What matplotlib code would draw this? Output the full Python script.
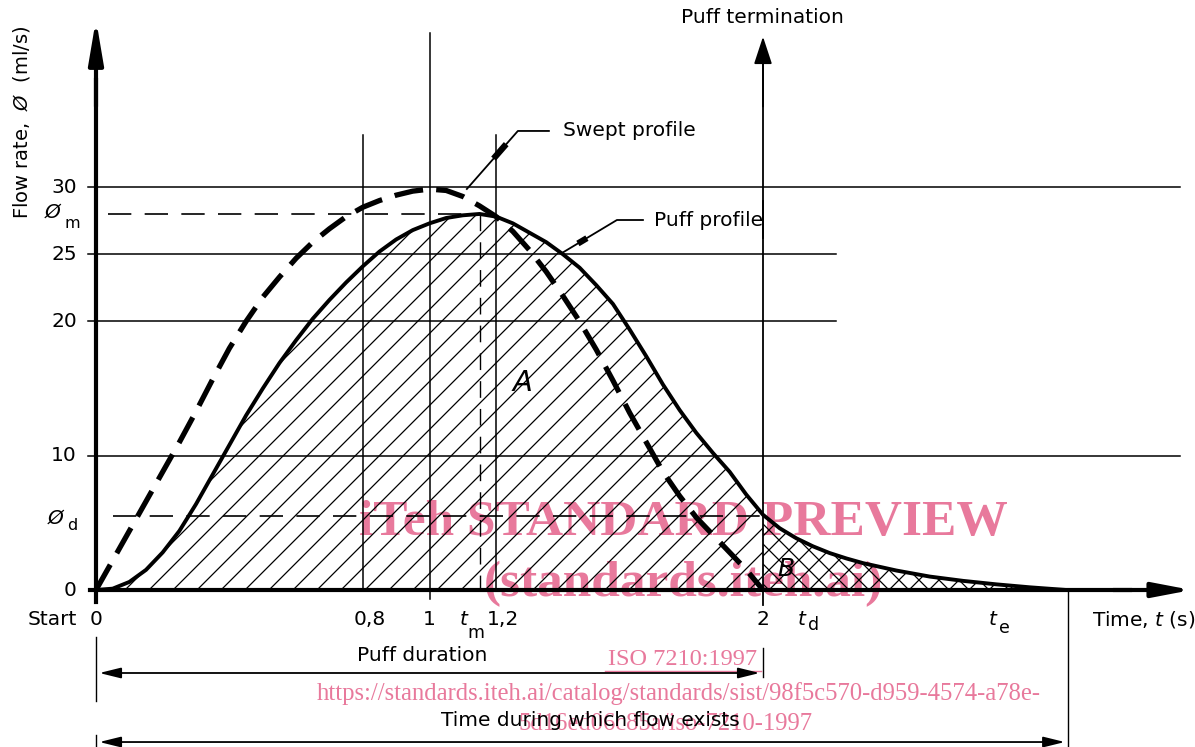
import numpy as np
import matplotlib
matplotlib.use('Agg')
import matplotlib.pyplot as plt
from matplotlib.patches import Polygon

plt.rcParams['font.family'] = ['DejaVu Sans']
plt.rcParams['mathtext.fontset'] = 'dejavusans'

# ---- data ----
puff_t = [0.00, 0.05, 0.10, 0.15, 0.20, 0.25, 0.30, 0.35, 0.40, 0.45, 0.50, 0.55,
          0.60, 0.65, 0.70, 0.75, 0.80, 0.85, 0.90, 0.95, 1.00, 1.05, 1.10, 1.15,
          1.20, 1.25, 1.30, 1.35, 1.40, 1.45, 1.50, 1.55, 1.60, 1.65, 1.70, 1.75,
          1.80, 1.85, 1.90, 1.95, 2.00, 2.05, 2.10, 2.15, 2.20, 2.25, 2.30, 2.40,
          2.50, 2.60, 2.70, 2.80, 2.91]
puff_flow = [0.0, 0.1, 0.6, 1.5, 2.8, 4.4, 6.4, 8.6, 10.8, 13.0, 15.0, 16.9,
             18.6, 20.2, 21.6, 22.9, 24.1, 25.2, 26.1, 26.8, 27.3, 27.7, 27.9, 28.0,
             27.8, 27.3, 26.6, 25.9, 25.0, 24.0, 22.7, 21.3, 19.4, 17.4, 15.3, 13.4,
             11.7, 10.2, 8.8, 7.1, 5.6, 4.6, 3.85, 3.25, 2.75, 2.35, 2.0, 1.45,
             1.0, 0.68, 0.42, 0.2, 0.0]

swept_t = [0.00, 0.05, 0.10, 0.15, 0.20, 0.25, 0.30, 0.35, 0.40, 0.45, 0.50, 0.55,
           0.60, 0.65, 0.70, 0.75, 0.80, 0.85, 0.90, 0.95, 1.00, 1.05, 1.10, 1.15,
           1.20, 1.25, 1.30, 1.35, 1.40, 1.45, 1.50, 1.55, 1.60, 1.65, 1.70, 1.75,
           1.80, 1.85, 1.90, 1.95, 1.98, 2.00]
swept_flow = [0.0, 2.2, 4.4, 6.6, 8.8, 11.0, 13.3, 15.7, 18.0, 20.0, 21.8, 23.3,
              24.7, 25.9, 26.9, 27.8, 28.5, 29.0, 29.4, 29.7, 29.85, 29.75, 29.3, 28.6,
              27.8, 26.7, 25.3, 23.7, 21.9, 20.0, 17.9, 15.6, 13.2, 11.0, 8.8, 7.0,
              5.4, 4.1, 2.8, 1.5, 0.6, 0.0]

y_ticks = [0, 10, 20, 25, 30]
x_ticks = [0, 0.8, 1, 1.2, 2]
x_tick_labels = ['0', '0,8', '1', '1,2', '2']
phi_m = 28.0
phi_d = 5.5
t_m = 1.15
t_d = 2.0
t_e = 2.915

# pixel scale of the drawing (px per unit)
SX, SY = 333.5, 13.43

fig = plt.figure(figsize=(11.95, 7.47), dpi=100)
ax = fig.add_axes([0, 0, 1, 1])
ax.set_xlim(-96 / SX, (1195 - 96) / SX)
ax.set_ylim(-157 / SY, 590 / SY)
ax.set_autoscale_on(False)
ax.axis('off')

K = 'black'
TXT = 14.5

# ---- grid lines ----
for yv in y_ticks[1:]:
    right = 2.22 if yv in (20, 25) else 3.25
    ax.plot([-0.025, right], [yv, yv], color=K, lw=1.1)
ax.plot([0.8, 0.8], [0, 33.9], color=K, lw=1.1)
ax.plot([1.0, 1.0], [-0.7, 41.5], color=K, lw=1.1)
ax.plot([1.2, 1.2], [0, 33.9], color=K, lw=1.1)
ax.plot([t_d, t_d], [-1.1, 29.0], color=K, lw=1.3)
ax.plot([t_d, t_d], [26.2, 40.0], color=K, lw=1.3)
ax.plot([t_e, t_e], [0, -11.7], color=K, lw=1.0)
ax.plot([0, 0], [-3.5, -8.3], color=K, lw=1.0)
ax.plot([0, 0], [-10.8, -11.7], color=K, lw=1.0)
ax.plot([t_d, t_d], [-4.3, -6.5], color=K, lw=1.0)

# puff termination arrow
ax.annotate('', xy=(t_d, 41.2), xytext=(t_d, 36),
            arrowprops=dict(arrowstyle='-|>,head_length=0.85,head_width=0.28',
                            mutation_scale=20, lw=1.3, color=K,
                            shrinkA=0, shrinkB=0))

# dashed reference lines
ax.plot([0.036, t_m], [phi_m, phi_m], color=K, lw=1.2, dashes=(14, 8))
ax.plot([t_m, t_m], [phi_m, 0], color=K, lw=1.0, dashes=(12, 8))
ax.plot([0.05, t_d], [phi_d, phi_d], color=K, lw=1.2, dashes=(14, 8))

# ---- hatched areas ----
pt = np.array(puff_t)
pf = np.array(puff_flow)
a_mask = pt <= t_d
b_mask = pt >= t_d
poly_a = Polygon(np.column_stack([np.r_[pt[a_mask], t_d], np.r_[pf[a_mask], 0]]),
                 closed=True, facecolor='none', edgecolor='none')
poly_b = Polygon(np.column_stack([np.r_[pt[b_mask], t_d], np.r_[pf[b_mask], 0]]),
                 closed=True, facecolor='none', edgecolor='none')
ax.add_patch(poly_a)
ax.add_patch(poly_b)

slope = SX / SY
xs = np.array([-0.5, 3.5])


def hatch(patch, step, signs):
    for s in signs:
        for c in np.arange(-2.0, 5.0, step):
            ln, = ax.plot(xs, s * slope * (xs - c), color=K, lw=0.9)
            ln.set_clip_path(patch)


hatch(poly_a, 24 / SX, [1])
hatch(poly_b, 20 / SX, [1, -1])

# ---- profiles ----
ax.plot(puff_t, puff_flow, color=K, lw=2.8, solid_capstyle='round',
        solid_joinstyle='round', zorder=5)
ax.plot(swept_t, swept_flow, color=K, lw=3.8, dashes=(5.5, 2.5), zorder=6)

# ---- axes ----
ax.plot([-0.018, 3.1], [0, 0], color=K, lw=3.0, zorder=7)
ax.plot([0, 0], [-0.9, 38], color=K, lw=3.0, zorder=7)
ax.annotate('', xy=(0, 42.5), xytext=(0, 36),
            arrowprops=dict(arrowstyle='-|>,head_length=1.3,head_width=0.22',
                            mutation_scale=20, lw=3.0, color=K,
                            shrinkA=0, shrinkB=0), zorder=7)
ax.annotate('', xy=(3.285, 0), xytext=(3.05, 0), annotation_clip=False,
            arrowprops=dict(arrowstyle='-|>,head_length=1.15,head_width=0.22',
                            mutation_scale=20, lw=3.0, color=K,
                            shrinkA=0, shrinkB=0), zorder=7)

# dimension arrows
dim = dict(arrowstyle='<|-|>,head_length=0.65,head_width=0.16',
           mutation_scale=20, lw=1.3, color=K, shrinkA=0, shrinkB=0)
ax.annotate('', xy=(0.01, -6.18), xytext=(t_d - 0.01, -6.18), arrowprops=dim)
ax.annotate('', xy=(0.01, -11.32), xytext=(t_e - 0.01, -11.32), arrowprops=dim)

# ---- tick labels ----
ylab_x = -0.057
for yv in y_ticks:
    ax.text(ylab_x, yv, str(yv), ha='right', va='center', fontsize=TXT)
ax.text(-0.13, phi_m + 0.1, 'Ø', ha='center', va='center', fontsize=TXT,
        style='italic')
ax.text(-0.072, phi_m - 0.7, 'm', ha='center', va='center', fontsize=TXT - 3)
ax.text(-0.12, phi_d - 0.15, 'Ø', ha='center', va='center', fontsize=TXT,
        style='italic')
ax.text(-0.072, phi_d - 0.7, 'd', ha='center', va='center', fontsize=TXT - 3)

xl_y = -2.23
for xv, lab in zip(x_ticks, x_tick_labels):
    ax.text(xv + (0.02 if lab == '0,8' else 0.0) + (0.02 if lab == '1,2' else 0.0),
            xl_y, lab, ha='center', va='center', fontsize=TXT)
ax.text(-0.057, xl_y, 'Start', ha='right', va='center', fontsize=TXT)
for tx, sub, dx, dy in [(1.102, 'm', 0.038, -0.95), (2.117, 'd', 0.034, -0.35),
                        (2.69, 'e', 0.033, -0.6)]:
    ax.text(tx, xl_y, 't', ha='center', va='center', fontsize=TXT, style='italic')
    ax.text(tx + dx, xl_y + dy, sub, ha='center', va='center', fontsize=TXT - 2)
ax.text(2.987, xl_y, 'Time, $t$ (s)', ha='left', va='center', fontsize=TXT)

ax.text(-0.222, 34.8, r'Flow rate,  $\mathit{Ø}$  (ml/s)', rotation=90,
        ha='center', va='center', fontsize=TXT - 0.5)

# ---- annotations ----
ax.text(1.754, 42.6, 'Puff termination', ha='left', va='center', fontsize=TXT)
ax.plot([1.358, 1.265, 1.112], [34.18, 34.18, 29.86], color=K, lw=1.3)
ax.plot([1.230, 1.192], [33.20, 32.12], color=K, lw=4.5, solid_capstyle='butt')
ax.text(1.40, 34.18, 'Swept profile', ha='left', va='center', fontsize=TXT)
ax.plot([1.640, 1.562, 1.397], [27.55, 27.55, 25.09], color=K, lw=1.3)
ax.plot([1.472, 1.445], [26.2, 25.8], color=K, lw=4.5, solid_capstyle='butt')
ax.text(1.672, 27.55, 'Puff profile', ha='left', va='center', fontsize=TXT)

ax.text(1.28, 15.4, 'A', ha='center', va='center', fontsize=21, style='italic')
ax.text(2.07, 1.6, 'B', ha='center', va='center', fontsize=18, style='italic')

ax.text(0.977, -4.84, 'Puff duration', ha='center', va='center', fontsize=TXT)
ax.text(1.481, -9.68, 'Time during which flow exists', ha='center', va='center',
        fontsize=TXT)

# ---- watermark (drawn under the black drawing) ----
wm = '#e8799c'
ax.text(1.760, 5.0, 'iTeh STANDARD PREVIEW', ha='center', va='center',
        fontsize=37, fontweight='bold', family='Liberation Serif', color=wm,
        zorder=0.5)
ax.text(1.760, 0.45, '(standards.iteh.ai)', ha='center', va='center',
        fontsize=37, fontweight='bold', family='Liberation Serif', color=wm,
        zorder=0.5)
ax.text(1.760, -5.21, 'ISO 7210:1997', ha='center', va='center', fontsize=17.5,
        family='Liberation Serif', color=wm, zorder=0.5)
ax.plot([1.525, 1.995], [-6.02, -6.02], color=wm, lw=1.0, zorder=0.5)
ax.text(1.748, -7.67,
        'https://standards.iteh.ai/catalog/standards/sist/98f5c570-d959-4574-a78e-',
        ha='center', va='center', fontsize=17.7, family='Liberation Serif',
        color=wm, zorder=0.5)
ax.text(1.709, -9.98, '5d16ed06c85a/iso-7210-1997', ha='center', va='center',
        fontsize=17.7, family='Liberation Serif', color=wm, zorder=0.5)

fig.savefig('out.png', dpi=100, facecolor='white')
